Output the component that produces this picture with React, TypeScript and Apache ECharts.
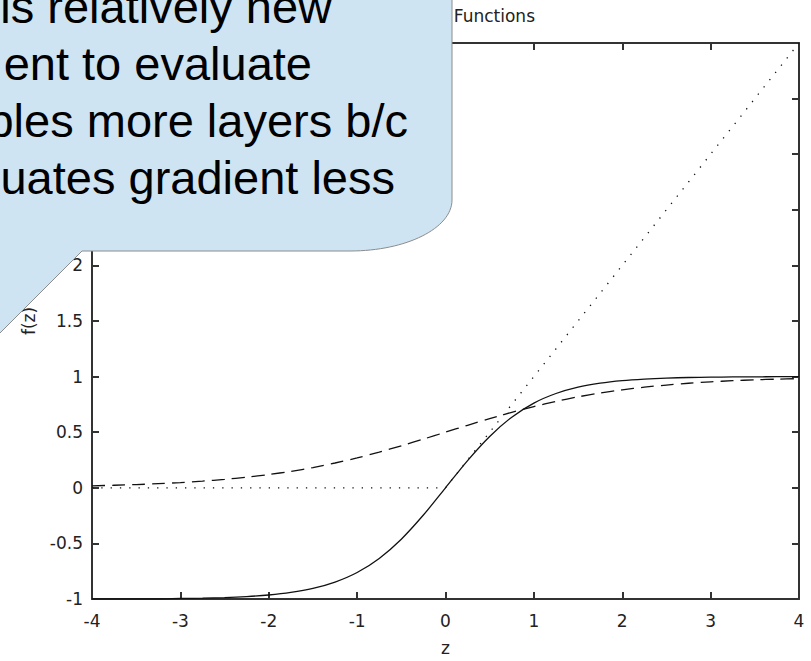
import React, { useEffect, useRef } from "react";
import * as echarts from "echarts";

// Sample points along z (every 0.25)
const zValues = [
  -4, -3.75, -3.5, -3.25, -3, -2.75, -2.5, -2.25, -2, -1.75, -1.5, -1.25, -1, -0.75, -0.5, -0.25,
  0, 0.25, 0.5, 0.75, 1, 1.25, 1.5, 1.75, 2, 2.25, 2.5, 2.75, 3, 3.25, 3.5, 3.75, 4,
];
// tanh (solid)
const tanhValues = [
  -1.0, -1.0, -1.0, -1.0, -0.995, -0.992, -0.987, -0.978, -0.964, -0.941, -0.905, -0.848, -0.762, -0.635, -0.462, -0.245,
  0, 0.245, 0.462, 0.635, 0.762, 0.848, 0.905, 0.941, 0.964, 0.978, 0.987, 0.992, 0.995, 0.997, 0.998, 0.999, 1.0,
];
// logistic sigmoid (dashed)
const sigmoidValues = [
  0.018, 0.023, 0.029, 0.037, 0.047, 0.06, 0.076, 0.095, 0.119, 0.148, 0.182, 0.223, 0.269, 0.321, 0.378, 0.438,
  0.5, 0.562, 0.622, 0.679, 0.731, 0.777, 0.818, 0.852, 0.881, 0.905, 0.924, 0.94, 0.953, 0.963, 0.971, 0.977, 0.982,
];
// rectified linear (dotted)
const reluValues = [
  0, 0, 0, 0, 0, 0, 0, 0, 0, 0, 0, 0, 0, 0, 0, 0,
  0, 0.25, 0.5, 0.75, 1, 1.25, 1.5, 1.75, 2, 2.25, 2.5, 2.75, 3, 3.25, 3.5, 3.75, 4,
];

const xRange = [-4, 4];
const yRange = [-1, 4];
const xStep = 1;
const yStep = 0.5;

const titleText = "Activation Functions";
const xName = "z";
const yName = "f(z)";

const calloutLines = ["is relatively new", "ent to evaluate", "bles more layers b/c", "uates gradient less"];

const W = 811;
const H = 661;
const GRID = { left: 92, right: 12, top: 43, bottom: 61 };
const AXIS_COLOR = "#333";
const TEXT_COLOR = "#222";
const AXIS_FONT = "DejaVu Sans";

// callout text placement: right edges and baselines
const calloutRight = [332, 312, 408, 395];
const calloutBaseline0 = 22;
const calloutLineStep = 57;

// speech bubble outline (rounded lower-right corner, tail down-left)
const bubblePath =
  "M-3,-3 L452,-3 L452,200 C452,228.2 406.3,251 350,251 L82,251 L0,333 L-3,336 Z";

echarts.graphic.registerShape(
  "bubble",
  echarts.graphic.extendPath(bubblePath, {})
);

export default function App() {
  const ref = useRef<HTMLDivElement>(null);

  useEffect(() => {
    if (!ref.current) return;
    const chart = echarts.init(ref.current, undefined, { renderer: "svg" });

    const pairs = (ys: number[]) => zValues.map((z, i) => [z, ys[i]]);

    const tickLabel = { fontFamily: AXIS_FONT, fontSize: 17, color: TEXT_COLOR };
    const axisLine = { show: true, onZero: false, lineStyle: { color: AXIS_COLOR, width: 2 } };
    const axisTick = { show: true, inside: true, length: 7, lineStyle: { color: AXIS_COLOR, width: 2 } };
    const nameStyle = { fontFamily: AXIS_FONT, fontSize: 17, color: TEXT_COLOR };

    const option: any = {
      animation: false,
      backgroundColor: "#ffffff",
      grid: { ...GRID, containLabel: false },
      xAxis: [
        {
          type: "value",
          position: "bottom",
          min: xRange[0],
          max: xRange[1],
          interval: xStep,
          axisLine,
          axisTick,
          splitLine: { show: false },
          axisLabel: { ...tickLabel, margin: 13 },
          name: xName,
          nameLocation: "middle",
          nameGap: 40,
          nameTextStyle: nameStyle,
        },
        {
          type: "value",
          position: "top",
          min: xRange[0],
          max: xRange[1],
          interval: xStep,
          axisLine,
          axisTick,
          splitLine: { show: false },
          axisLabel: { show: false },
        },
      ],
      yAxis: [
        {
          type: "value",
          position: "left",
          min: yRange[0],
          max: yRange[1],
          interval: yStep,
          axisLine,
          axisTick,
          splitLine: { show: false },
          axisLabel: { ...tickLabel, margin: 9 },
          name: yName,
          nameLocation: "middle",
          nameGap: 55,
          nameTextStyle: nameStyle,
        },
        {
          type: "value",
          position: "right",
          min: yRange[0],
          max: yRange[1],
          interval: yStep,
          axisLine,
          axisTick,
          splitLine: { show: false },
          axisLabel: { show: false },
        },
      ],
      series: [
        {
          name: "tanh",
          type: "line",
          data: pairs(tanhValues),
          smooth: 0.3,
          symbol: "none",
          lineStyle: { color: "#111", width: 1.3, type: "solid" },
          z: 3,
        },
        {
          name: "sigmoid",
          type: "line",
          data: pairs(sigmoidValues),
          smooth: 0.3,
          symbol: "none",
          lineStyle: { color: "#111", width: 1.3, type: [13, 7] },
          z: 3,
        },
        {
          name: "relu",
          type: "line",
          data: pairs(reluValues),
          symbol: "none",
          lineStyle: { color: "#111", width: 1.3, type: [1.3, 8] },
          z: 3,
        },
      ],
      graphic: [
        {
          type: "text",
          x: 535,
          y: 16,
          z: 1,
          style: {
            text: titleText,
            fontFamily: AXIS_FONT,
            fontSize: 17,
            fill: TEXT_COLOR,
            textAlign: "right",
            textVerticalAlign: "middle",
          },
        },
        {
          type: "bubble",
          x: 0,
          y: 0,
          z: 100,
          style: { fill: "#cfe4f3", stroke: "#8c8c8c", lineWidth: 1 },
        },
        ...calloutLines.map((line, i) => ({
          type: "text",
          x: calloutRight[i],
          y: calloutBaseline0 + i * calloutLineStep - 16,
          z: 101,
          style: {
            text: line,
            fontFamily: "Liberation Sans",
            fontSize: 47,
            fill: "#000",
            textAlign: "right",
            textVerticalAlign: "middle",
          },
        })),
      ],
    };

    chart.setOption(option);
    return () => chart.dispose();
  }, []);

  return (
    <div
      ref={ref}
      style={{ position: "fixed", left: 0, top: 0, width: W, height: H, background: "#fff" }}
    />
  );
}
